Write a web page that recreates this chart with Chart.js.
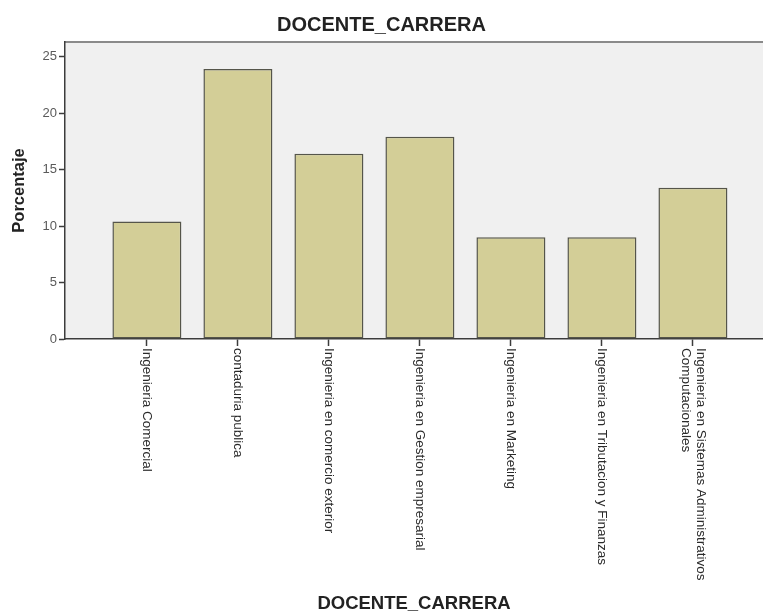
<!DOCTYPE html>
<html><head><meta charset="utf-8">
<script src="https://cdn.jsdelivr.net/npm/chart.js@4/dist/chart.umd.min.js"></script>
<style>html,body{margin:0;padding:0;background:#fff;overflow:hidden}#wrap{width:763px;height:615px;position:relative}</style>
</head><body><div id="wrap"><canvas id="c" width="763" height="615"></canvas></div>
<script>
const categories = [
  'Ingenieria Comercial',
  'contaduria publica',
  'Ingenieria en comercio exterior',
  'Ingenieria en Gestion empresarial',
  'Ingenieria en Marketing',
  'Ingenieria en Tributacion y Finanzas',
  ['Ingenieria en Sistemas Administrativos', 'Computacionales']
];
const percentages = [10.4, 23.9, 16.4, 17.9, 9.0, 9.0, 13.4];
const yTicks = [0, 5, 10, 15, 20, 25];
const chartTitle = 'DOCENTE_CARRERA';
const xTitle = 'DOCENTE_CARRERA';
const yTitle = 'Porcentaje';

const FONT = "'Liberation Sans', Arial, sans-serif";

const plotDecor = {
  id: 'plotDecor',
  beforeDraw(chart) {
    const {ctx, chartArea: a} = chart;
    ctx.save();
    ctx.fillStyle = '#F0F0F0';
    ctx.fillRect(a.left, a.top, a.right - a.left, a.bottom - a.top);
    ctx.strokeStyle = '#8a8a8a';
    ctx.lineWidth = 2;
    ctx.beginPath();
    ctx.moveTo(a.left, a.top);
    ctx.lineTo(a.right, a.top);
    ctx.stroke();
    ctx.restore();
  },
  afterDraw(chart) {
    const {ctx} = chart;
    const xs = chart.scales.x;
    ctx.save();
    ctx.font = "13.5px " + FONT;
    ctx.fillStyle = '#2a2a2a';
    ctx.textAlign = 'left';
    ctx.textBaseline = 'middle';
    const lh = 15;
    categories.forEach((lab, i) => {
      const lines = Array.isArray(lab) ? lab : [lab];
      const px = xs.getPixelForValue(i + 1);
      ctx.save();
      ctx.translate(px, xs.top + 9);
      ctx.rotate(Math.PI / 2);
      lines.forEach((ln, j) => {
        const off = (j - (lines.length - 1) / 2) * lh;
        ctx.fillText(ln, 0, off);
      });
      ctx.restore();
    });
    ctx.restore();
  }
};

new Chart(document.getElementById('c'), {
  type: 'bar',
  data: {
    datasets: [{
      data: percentages.map((v, i) => ({x: i + 1, y: v})),
      backgroundColor: '#D3CE97',
      borderColor: '#55554a',
      borderWidth: 1.5,
      borderSkipped: false,
      categoryPercentage: 1,
      barPercentage: 0.758
    }]
  },
  options: {
    responsive: false,
    animation: false,
    devicePixelRatio: 1,
    layout: {padding: 0},
    plugins: {
      legend: {display: false},
      tooltip: {enabled: false},
      title: {
        display: true,
        text: chartTitle,
        color: '#222',
        font: {family: FONT, size: 20, weight: 'bold', lineHeight: 1.2},
        padding: {top: 13, bottom: 5}
      }
    },
    scales: {
      x: {
        type: 'linear',
        offset: false,
        min: 0.1,
        max: 7.77,
        afterBuildTicks: s => { s.ticks = categories.map((_, i) => ({value: i + 1})); },
        afterFit: s => { s.height = 276; },
        ticks: {display: false},
        grid: {offset: false, drawOnChartArea: false, drawTicks: true, tickLength: 7, tickColor: '#3c3c3c', tickWidth: 1.5},
        border: {display: true, color: '#3c3c3c', width: 1.5},
        title: {
          display: true, text: xTitle, color: '#222',
          font: {family: FONT, size: 18.5, weight: 'bold', lineHeight: 1.2},
          padding: {top: 0, bottom: 0}
        }
      },
      y: {
        type: 'linear',
        min: 0,
        max: 26.3,
        afterBuildTicks: s => { s.ticks = yTicks.map(v => ({value: v})); },
        afterFit: s => { s.width = 65; },
        ticks: {color: '#5a5a5a', font: {family: FONT, size: 13}, padding: 2},
        grid: {drawOnChartArea: false, drawTicks: true, tickLength: 6, tickColor: '#3c3c3c', tickWidth: 1.5},
        border: {display: true, color: '#3c3c3c', width: 1.5},
        title: {
          display: true, text: yTitle, color: '#222',
          font: {family: FONT, size: 16.5, weight: 'bold', lineHeight: 1.2},
          padding: {top: 10, bottom: 0}
        }
      }
    }
  },
  plugins: [plotDecor]
});
</script>
</body></html>
